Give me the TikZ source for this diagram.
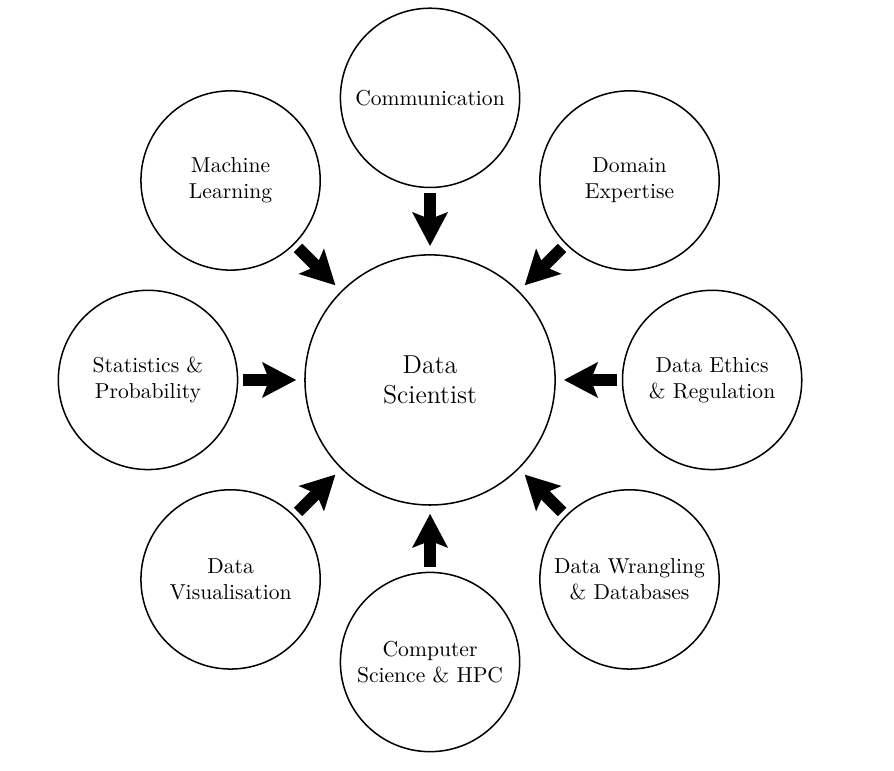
\documentclass[tikz,border=0pt]{standalone}
\usetikzlibrary{arrows.meta}
\begin{document}
\begin{tikzpicture}[>={Stealth[length=15.5pt,width=16pt,inset=3pt]},
  skill/.style={draw, circle, line width=0.7pt, minimum size=83pt, inner sep=0pt, align=center},
  feed/.style={->, line width=5.5pt, shorten <=2.3pt, shorten >=3.7pt}]
\useasboundingbox (-199.1pt,-180.6pt) rectangle (214.8pt,175.9pt);

\node[skill, minimum size=115.8pt, font=\large] (ds) at (0,0) {Data\\Scientist};

\node[skill] (comm) at (90:130.6pt) {Communication};
\node[skill] (domain) at (45:130.6pt) {Domain\\Expertise};
\node[skill] (ethics) at (0:130.6pt) {Data Ethics\\\& Regulation};
\node[skill] (wrangle) at (-45:130.6pt) {Data Wrangling\\\& Databases};
\node[skill] (cs) at (-90:130.6pt) {Computer\\Science \& HPC};
\node[skill] (vis) at (-135:130.6pt) {Data\\Visualisation};
\node[skill] (stats) at (180:130.6pt) {Statistics \&\\Probability};
\node[skill] (ml) at (135:130.6pt) {Machine\\Learning};

\draw[feed] (comm) -- (ds);
\draw[feed] (domain) -- (ds);
\draw[feed] (ethics) -- (ds);
\draw[feed] (wrangle) -- (ds);
\draw[feed] (cs) -- (ds);
\draw[feed] (vis) -- (ds);
\draw[feed] (stats) -- (ds);
\draw[feed] (ml) -- (ds);
\end{tikzpicture}
\end{document}
